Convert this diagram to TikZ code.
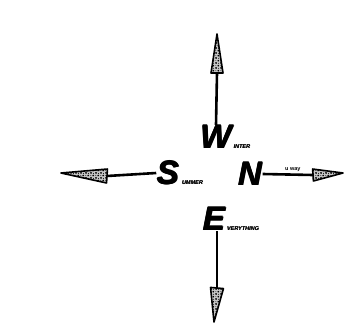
\documentclass[tikz,border=0pt]{standalone}
\usepackage{fontspec}
\setmainfont{Liberation Sans}
\usepackage{tikz}
\usetikzlibrary{calc,patterns}

% heavier strokes for the big letters
\newcommand\fat[1]{\rlap{\kern1.1pt#1}\rlap{\kern0.55pt\raisebox{0.5pt}{#1}}\rlap{\kern0.55pt\raisebox{-0.5pt}{#1}}#1\kern1.1pt}
\newcommand\fatsub[1]{\rlap{\kern0.3pt#1}#1\kern0.3pt}

% coarse stipple for the cones
\pgfdeclarepatternformonly{speckle}{\pgfpointorigin}{\pgfpoint{5pt}{5pt}}{\pgfpoint{5pt}{5pt}}{
  \pgfpathcircle{\pgfpoint{1.2pt}{1.2pt}}{1.2pt}
  \pgfpathcircle{\pgfpoint{3.7pt}{3.9pt}}{1.05pt}
  \pgfpathcircle{\pgfpoint{4.1pt}{0.8pt}}{0.6pt}
  \pgfpathcircle{\pgfpoint{1.0pt}{4.0pt}}{0.5pt}
  \pgfusepath{fill}
}

\begin{document}
\begin{tikzpicture}[
  x=1pt, y=-1pt,
  letter/.style={inner sep=0pt, font=\fontsize{33}{33}\selectfont\bfseries\itshape},
  sub/.style={inner sep=0pt, anchor=base west, font=\fontsize{5.5}{5.5}\selectfont\bfseries\itshape},
  note/.style={inner sep=0pt, font=\fontsize{5.5}{5.5}\selectfont\bfseries},
  shaft/.style={draw=black, line width=2.6pt},
  cone/.style={draw=black, line width=1.6pt, line join=round, preaction={fill=black!22}, pattern=speckle, pattern color=black}
]
\useasboundingbox (0,0) rectangle (348,324);

%============ LETTERS ============
\node[letter] (w) at (216,137) {\fat{W}};
\node[sub] at ([xshift=1pt]w.base east) {\fatsub{INTER}};
\node[letter] (s) at (168,173) {\fat{S}};
\node[sub] at ([xshift=2pt]s.base east) {\fatsub{UMMER}};
\node[letter] (n) at (250,174) {\fat{N}};
\node[letter] (e) at (214,219) {\fat{E}};
\node[sub] at ([xshift=1pt]e.base east) {\fatsub{VERYTHING}};

%============ ARROWS ============
% cone bases and tips
\coordinate (wb) at (217,73);  \coordinate (wt) at (217,34);
\coordinate (sb) at (107,176); \coordinate (st) at (61,173);
\coordinate (nb) at (313,175); \coordinate (nt) at (343,173);
\coordinate (eb) at (217,288); \coordinate (et) at (214,322);
% shafts
\draw[shaft] (w.north) -- (wb);
\draw[shaft] (s.west) -- (sb);
\draw[shaft] (n.east) -- node[note, above=2pt, pos=0.6] {u way} (nb);
\draw[shaft] (e.south) ++(3,0) -- (eb);
% cones
\draw[cone] ($(wb)!6pt!90:(wt)$) -- (wt) -- ($(wb)!6pt!-90:(wt)$) -- cycle;
\draw[cone] ($(sb)!7pt!90:(st)$) -- (st) -- ($(sb)!7pt!-90:(st)$) -- cycle;
\draw[cone] ($(nb)!6pt!90:(nt)$) -- (nt) -- ($(nb)!6pt!-90:(nt)$) -- cycle;
\draw[cone] ($(eb)!6.5pt!90:(et)$) -- (et) -- ($(eb)!6.5pt!-90:(et)$) -- cycle;
\end{tikzpicture}
\end{document}
